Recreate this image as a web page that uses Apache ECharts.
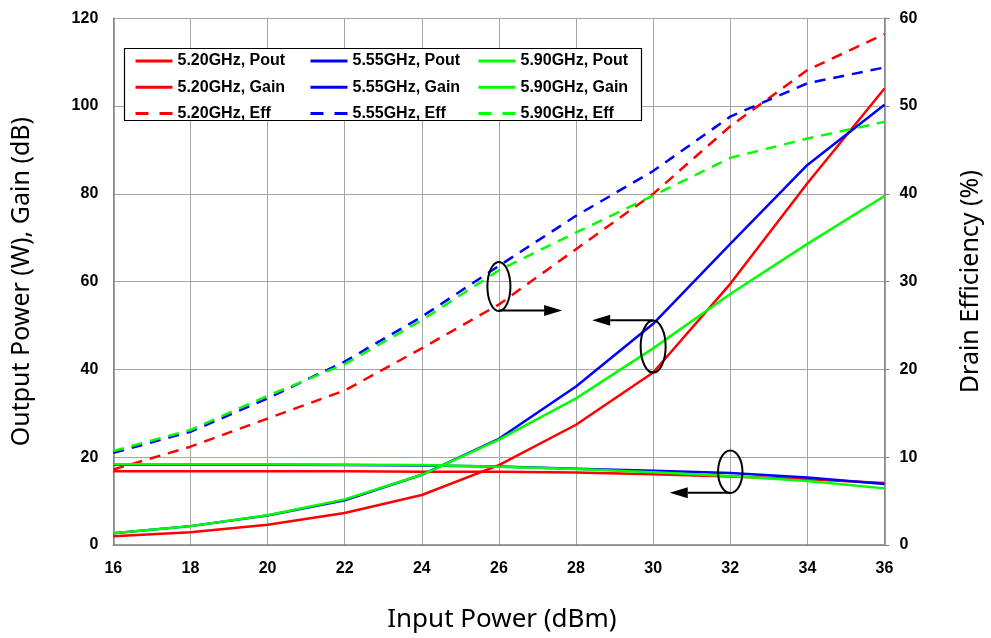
<!DOCTYPE html>
<html>
<head>
<meta charset="utf-8">
<script src="https://cdn.jsdelivr.net/npm/echarts@6/dist/echarts.min.js"></script>
<style>
html,body{margin:0;padding:0;background:#fff;}
#chart{width:991px;height:638px;}
</style>
</head>
<body>
<div id="chart"></div>
<script>
// Input power (dBm)
const inputPower = [16, 18, 20, 22, 24, 26, 28, 30, 32, 34, 36];
// Output power (W)
const pout520 = [2.0, 2.9, 4.6, 7.3, 11.4, 18.2, 27.4, 39.3, 59.5, 82.4, 104.0];
const pout555 = [2.7, 4.3, 6.7, 10.2, 16.0, 24.2, 36.1, 50.4, 68.6, 86.6, 100.3];
const pout590 = [2.7, 4.3, 6.8, 10.4, 16.0, 24.0, 33.4, 44.8, 57.2, 68.6, 79.5];
// Gain (dB)
const gain520 = [16.8, 16.8, 16.8, 16.8, 16.7, 16.7, 16.5, 16.1, 15.6, 15.0, 14.1];
const gain555 = [18.3, 18.3, 18.3, 18.2, 18.1, 17.9, 17.4, 16.9, 16.4, 15.4, 13.9];
const gain590 = [18.4, 18.4, 18.4, 18.3, 18.2, 17.8, 17.3, 16.6, 15.7, 14.6, 12.9];
// Drain efficiency (%)
const eff520 = [8.6, 11.2, 14.4, 17.6, 22.4, 27.4, 33.7, 40.0, 47.7, 54.1, 58.2];
const eff555 = [10.5, 12.9, 16.7, 20.9, 26.0, 31.8, 37.5, 42.6, 48.8, 52.6, 54.4];
const eff590 = [10.7, 13.1, 17.0, 20.6, 25.6, 31.3, 35.6, 39.8, 44.1, 46.3, 48.2];

const leftTicks = [0, 20, 40, 60, 80, 100, 120];
const rightTicks = [0, 10, 20, 30, 40, 50, 60];
const xTicks = [16, 18, 20, 22, 24, 26, 28, 30, 32, 34, 36];

// annotation anchors in data coordinates [x, leftY]
const ellipseAnchors = [[26, 58.9], [30, 45.2], [32, 16.7]];
const arrowAnchors = [ // [fromX, toX, y]
  [26, 27.64, 53.4],
  [30, 28.42, 51.2],
  [32, 30.43, 11.9]
];

const RED = '#ff0000', BLUE = '#0000ff', GREEN = '#00ff00';
const pair = arr => arr.map((v, i) => [inputPower[i], v]);

function mk(name, data, color, dashed, yIdx) {
  return {
    name: name, type: 'line', data: pair(data), yAxisIndex: yIdx,
    showSymbol: false, symbol: 'none', animation: false,
    lineStyle: { color: color, width: 2.5, type: dashed ? [11, 8] : 'solid' },
    itemStyle: { color: color },
    emphasis: { disabled: true }
  };
}

const series = [
  mk('5.20GHz, Pout', pout520, RED, false, 0),
  mk('5.20GHz, Gain', gain520, RED, false, 0),
  mk('5.20GHz, Eff', eff520, RED, true, 1),
  mk('5.55GHz, Pout', pout555, BLUE, false, 0),
  mk('5.55GHz, Gain', gain555, BLUE, false, 0),
  mk('5.55GHz, Eff', eff555, BLUE, true, 1),
  mk('5.90GHz, Pout', pout590, GREEN, false, 0),
  mk('5.90GHz, Gain', gain590, GREEN, false, 0),
  mk('5.90GHz, Eff', eff590, GREEN, true, 1)
];

const tickFont = { fontFamily: 'Liberation Sans', fontWeight: 'bold', fontSize: 16, color: '#000' };
const nameFont = { fontFamily: 'Noto Sans', fontSize: 25, color: '#000' };

function legendCol(names, left) {
  return {
    data: names.map((n, i) => ({
      name: n,
      lineStyle: { width: 3, type: i === 2 ? [13, 11] : 'solid' }
    })),
    orient: 'vertical', left: left, top: 53, padding: 0,
    itemWidth: 37, itemHeight: 14, itemGap: 10.3, z: 10,
    selectedMode: false,
    itemStyle: { opacity: 0 },
    textStyle: { fontFamily: 'Liberation Sans', fontWeight: 'bold', fontSize: 16, color: '#000', padding: [0, 0, 0, 0] }
  };
}

const chart = echarts.init(document.getElementById('chart'), null, { renderer: 'canvas' });
const option = {
  animation: false,
  backgroundColor: '#fff',
  grid: { left: 113.3, right: 101.7, top: 18.3, bottom: 90.7, containLabel: false },
  legend: [
    legendCol(['5.20GHz, Pout', '5.20GHz, Gain', '5.20GHz, Eff'], 134),
    legendCol(['5.55GHz, Pout', '5.55GHz, Gain', '5.55GHz, Eff'], 309),
    legendCol(['5.90GHz, Pout', '5.90GHz, Gain', '5.90GHz, Eff'], 477)
  ],
  xAxis: {
    type: 'value', min: xTicks[0], max: xTicks[xTicks.length - 1], interval: 2,
    name: 'Input Power (dBm)', nameLocation: 'middle', nameGap: 75,
    nameTextStyle: Object.assign({}, nameFont, { verticalAlign: 'middle', fontSize: 26, padding: [0, 0, 0, 6] }),
    axisLine: { show: true, lineStyle: { color: '#808080', width: 1.5 } },
    axisTick: { show: false },
    axisLabel: Object.assign({ margin: 16 }, tickFont),
    splitLine: { show: true, lineStyle: { color: '#a6a6a6', width: 1 } }
  },
  yAxis: [
    {
      type: 'value', min: leftTicks[0], max: leftTicks[leftTicks.length - 1], interval: 20,
      position: 'left',
      name: 'Output Power (W), Gain (dB)', nameLocation: 'middle', nameGap: 91, nameRotate: 90,
      nameTextStyle: Object.assign({ verticalAlign: 'middle' }, nameFont),
      axisLine: { show: true, lineStyle: { color: '#808080', width: 1.5 } },
      axisTick: { show: false },
      axisLabel: Object.assign({ margin: 15 }, tickFont),
      splitLine: { show: true, lineStyle: { color: '#a6a6a6', width: 1 } }
    },
    {
      type: 'value', min: rightTicks[0], max: rightTicks[rightTicks.length - 1], interval: 10,
      position: 'right',
      name: 'Drain Efficiency (%)', nameLocation: 'middle', nameGap: 86, nameRotate: 90,
      nameTextStyle: Object.assign({ verticalAlign: 'middle' }, nameFont),
      axisLine: { show: true, lineStyle: { color: '#808080', width: 1.5 } },
      axisTick: { show: true, inside: false, length: 5, lineStyle: { color: '#808080' } },
      axisLabel: Object.assign({ margin: 15 }, tickFont),
      splitLine: { show: false }
    }
  ],
  series: series
};
chart.setOption(option);

// legend frame + annotations
const graphics = [];
graphics.push({
  type: 'rect', z: 5, silent: true,
  shape: { x: 124.5, y: 48.5, width: 517, height: 72 },
  style: { fill: '#fff', stroke: '#000', lineWidth: 1.2 }
});
const ellipseSize = [[11.5, 24.5], [12.5, 26], [12.2, 21.3]];
ellipseAnchors.forEach((a, i) => {
  const p = chart.convertToPixel({ xAxisIndex: 0, yAxisIndex: 0 }, a);
  graphics.push({
    type: 'ellipse', z: 20, silent: true,
    shape: { cx: p[0], cy: p[1], rx: ellipseSize[i][0], ry: ellipseSize[i][1] },
    style: { fill: 'none', stroke: '#000', lineWidth: 2 }
  });
});
arrowAnchors.forEach(a => {
  const p1 = chart.convertToPixel({ xAxisIndex: 0, yAxisIndex: 0 }, [a[0], a[2]]);
  const p2 = chart.convertToPixel({ xAxisIndex: 0, yAxisIndex: 0 }, [a[1], a[2]]);
  const dir = p2[0] > p1[0] ? 1 : -1;
  const headLen = 18, headHalf = 5.5;
  const baseX = p2[0] - dir * headLen;
  graphics.push({
    type: 'line', z: 20, silent: true,
    shape: { x1: p1[0], y1: p1[1], x2: baseX, y2: p2[1] },
    style: { stroke: '#000', lineWidth: 2 }
  });
  graphics.push({
    type: 'polygon', z: 20, silent: true,
    shape: { points: [[p2[0], p2[1]], [baseX, p2[1] - headHalf], [baseX, p2[1] + headHalf]] },
    style: { fill: '#000' }
  });
});
chart.setOption({ graphic: graphics });
</script>
</body>
</html>
